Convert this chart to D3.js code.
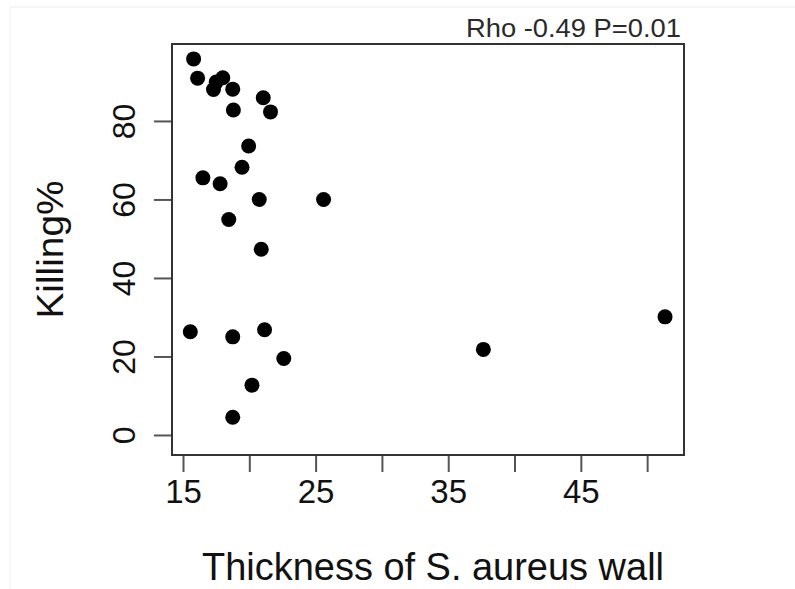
<!DOCTYPE html>
<html>
<head>
<meta charset="utf-8">
<script src="https://cdn.jsdelivr.net/npm/d3@7"></script>
<style>
  html, body { margin: 0; padding: 0; background: #fff; }
  svg { display: block; font-family: Arial, "Liberation Sans", sans-serif; }
</style>
</head>
<body>
<svg id="chart" width="795" height="589"></svg>
<script>
// Data
const thickness = [15.8, 16.1, 17.3, 17.5, 18.0, 18.75, 21.05, 18.8, 21.6, 19.95, 19.45, 16.5, 17.8, 20.75, 25.6, 18.45, 20.9, 15.55, 18.75, 21.15, 22.6, 20.2, 18.75, 37.65, 51.35];
const killing   = [95.8, 90.9, 88.0, 89.9, 91.0, 88.1, 85.9, 82.8, 82.3, 73.6, 68.2, 65.5, 64.0, 60.0, 60.0, 54.9, 47.3, 26.3, 25.0, 26.8, 19.5, 12.7, 4.5, 21.8, 30.1];
const xTicks = [15, 20, 25, 30, 35, 40, 45, 50];
const xTickLabels = ["15", "", "25", "", "35", "", "45", ""];
const yTicks = [0, 20, 40, 60, 80];
const xTitle = "Thickness of S. aureus wall";
const yTitle = "Killing%";
const annotation = "Rho -0.49 P=0.01";

const svg = d3.select("#chart");
const box = { left: 172, right: 684, top: 44, bottom: 455 };

const x = d3.scaleLinear().domain([14.17, 52.78]).range([box.left, box.right]);
const y = d3.scaleLinear().domain([-5.1, 99.6]).range([box.bottom, box.top]);

// faint outer frame of the figure
svg.append("path")
  .attr("d", `M10,589 L10,7 L795,7`)
  .attr("fill", "none").attr("stroke", "#eeeeee").attr("stroke-width", 1);

// X axis
const xAxis = d3.axisBottom(x).tickValues(xTicks).tickSize(17).tickPadding(8)
  .tickFormat((d, i) => xTickLabels[i]);
const gx = svg.append("g").attr("transform", `translate(0,${box.bottom})`).call(xAxis);
gx.select(".domain").remove();
gx.selectAll(".tick line").attr("stroke", "#555").attr("stroke-width", 2);
gx.selectAll(".tick text").attr("fill", "#111").attr("font-size", 33)
  .attr("font-family", "Arial, 'Liberation Sans', sans-serif");

// Y axis
const yAxis = d3.axisLeft(y).tickValues(yTicks).tickSize(18).tickPadding(0).tickFormat(d3.format("d"));
const gy = svg.append("g").attr("transform", `translate(${box.left},0)`).call(yAxis);
gy.select(".domain").remove();
gy.selectAll(".tick line").attr("stroke", "#555").attr("stroke-width", 2);
gy.selectAll(".tick text")
  .attr("fill", "#111").attr("font-size", 32)
  .attr("font-family", "Arial, 'Liberation Sans', sans-serif")
  .attr("x", null).attr("dy", null)
  .attr("text-anchor", "middle")
  .attr("transform", "translate(-37,0) rotate(-90)");

// Plot box
svg.append("rect")
  .attr("x", box.left).attr("y", box.top)
  .attr("width", box.right - box.left).attr("height", box.bottom - box.top)
  .attr("fill", "none").attr("stroke", "#333").attr("stroke-width", 2);

// Points
const pts = thickness.map((t, i) => ({ t, k: killing[i] }));
svg.append("g").selectAll("circle").data(pts).join("circle")
  .attr("cx", d => x(d.t)).attr("cy", d => y(d.k)).attr("r", 7.5)
  .attr("fill", "#000");

// Titles
svg.append("text")
  .attr("x", 433).attr("y", 580)
  .attr("text-anchor", "middle").attr("font-size", 38).attr("fill", "#111")
  .attr("textLength", 462).attr("lengthAdjust", "spacingAndGlyphs")
  .text(xTitle);

svg.append("text")
  .attr("transform", `translate(63,${(box.top + box.bottom) / 2}) rotate(-90)`)
  .attr("text-anchor", "middle").attr("font-size", 37).attr("fill", "#111")
  .attr("textLength", 138).attr("lengthAdjust", "spacingAndGlyphs")
  .text(yTitle);

svg.append("text")
  .attr("x", 681).attr("y", 37)
  .attr("text-anchor", "end").attr("font-size", 26).attr("fill", "#2a2a2a")
  .attr("textLength", 215).attr("lengthAdjust", "spacingAndGlyphs")
  .text(annotation);
</script>
</body>
</html>
